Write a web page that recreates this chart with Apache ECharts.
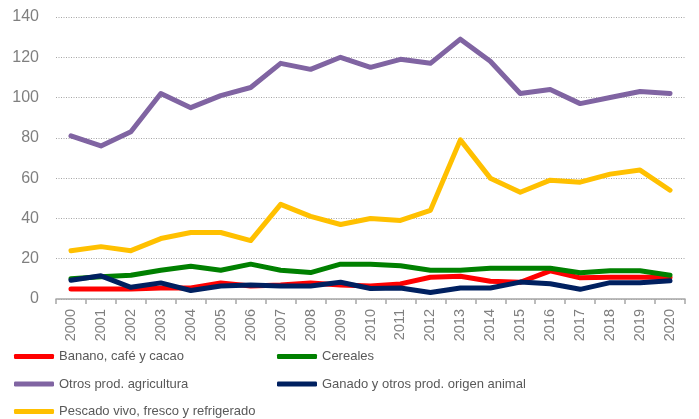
<!DOCTYPE html>
<html><head><meta charset="utf-8">
<script src="https://cdn.jsdelivr.net/npm/echarts@6/dist/echarts.min.js"></script>
<style>html,body{margin:0;padding:0;background:#fff}#c{width:699px;height:419px}</style>
</head><body><div id="c"></div>
<script>
const years = ['2000','2001','2002','2003','2004','2005','2006','2007','2008','2009','2010','2011','2012','2013','2014','2015','2016','2017','2018','2019','2020'];
const yTicks = [0,20,40,60,80,100,120,140];
const banano = [5,5,5,5.5,5.5,8,6.5,7,8,7,6.5,7.5,10.8,11.3,8.8,8.3,14,10.5,10.8,10.8,10.8];
const cereales = [10,11,11.8,14.3,16.3,14.3,17.3,14.3,13.1,17.3,17.3,16.5,14.3,14.3,15.3,15.3,15.3,13,14,14,11.8];
const otros = [81,76,83,102,95,101,105,117,114,120,115,119,117,129,118,102,104,97,100,103,102];
const ganado = [9.3,11.5,5.8,8,4.2,6.5,7,6.5,6.5,8.3,5.2,5.5,3.2,5.5,5.5,8.4,7.6,4.8,8.1,8.1,9.1];
const pescado = [24,26,24,30,33,33,29,47,41,37,40,39,44,79,60,53,59,58,62,64,54];
const names = ['Banano, café y cacao','Cereales','Otros prod. agricultura','Ganado y otros prod. origen animal','Pescado vivo, fresco y refrigerado'];
const colors = ['#FF0000','#008000','#8064A2','#002060','#FFC000'];
const data = [banano, cereales, otros, ganado, pescado];

const FONT = '"Liberation Sans", Arial, sans-serif';
const chart = echarts.init(document.getElementById('c'), null, {renderer:'canvas'});
const legendCommon = {
  orient:'vertical', icon:'roundRect', itemWidth:40, itemHeight:5, itemGap:14.5, height:120, padding:0,
  textStyle:{color:'#595959', fontSize:13, fontFamily:FONT},
  selectedMode:false
};
chart.setOption({
  animation:false,
  color: colors,
  grid:{left:56, right:14, top:17, bottom:120, containLabel:false},
  legend:[
    Object.assign({left:14, top:350, data:[names[0], names[2], names[4]]}, legendCommon),
    Object.assign({left:277, top:350, data:[names[1], names[3]]}, legendCommon)
  ],
  xAxis:{
    type:'category', data:years, boundaryGap:true,
    axisLine:{lineStyle:{color:'#A6A6A6', width:1.5}},
    axisTick:{show:true, length:5, lineStyle:{color:'#A6A6A6', width:1.5}},
    axisLabel:{rotate:90, color:'#7F7F7F', fontSize:14.5, margin:10, fontFamily:FONT}
  },
  yAxis:{
    type:'value', min:yTicks[0], max:yTicks[yTicks.length-1], interval:20,
    axisLine:{show:false}, axisTick:{show:false},
    axisLabel:{color:'#7F7F7F', fontSize:16, margin:17, fontFamily:FONT},
    splitLine:{lineStyle:{color:'#A6A6A6', type:[1,1.5], width:1}}
  },
  series: names.map((n,i)=>({
    name:n, type:'line', data:data[i], symbol:'none', showSymbol:false,
    lineStyle:{width:5, color:colors[i], cap:'round', join:'round'},
    itemStyle:{color:colors[i]}
  }))
});
</script></body></html>
